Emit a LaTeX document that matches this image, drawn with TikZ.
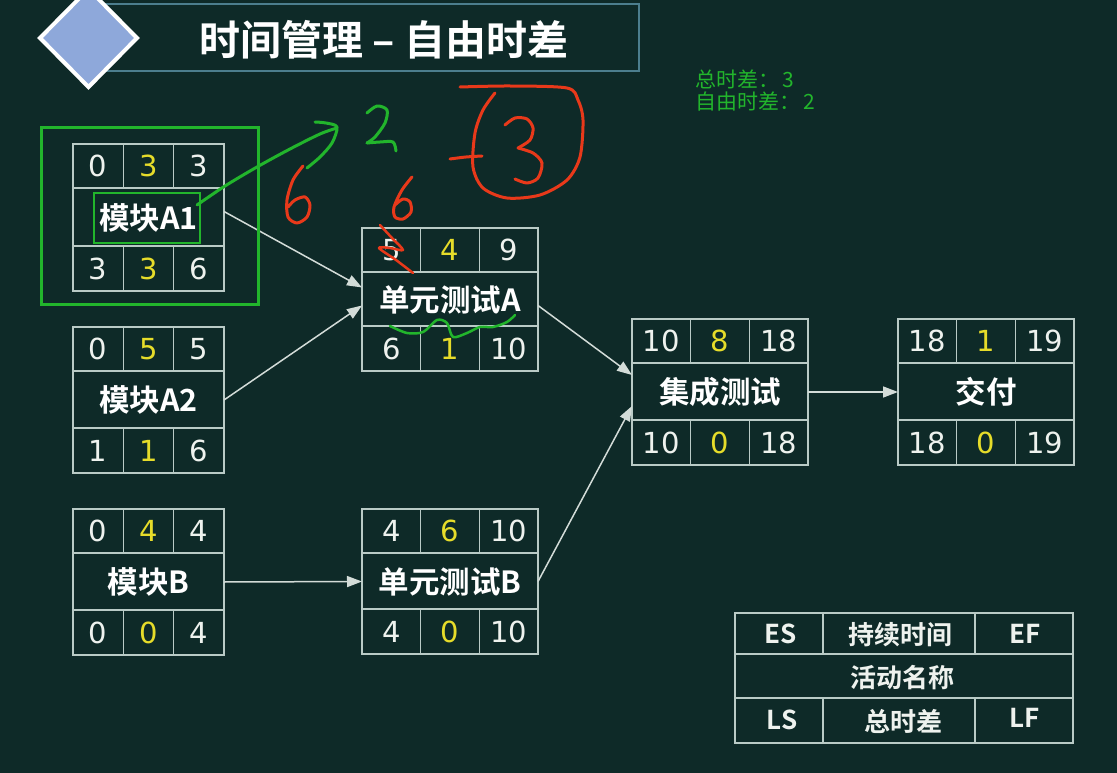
\documentclass[tikz,border=0pt]{standalone}
\usepackage{fontspec}
\setmainfont{DejaVu Sans}
\newfontfamily\cjk{Noto Sans CJK SC}[BoldFont={Noto Sans CJK SC Bold}]
\usetikzlibrary{arrows.meta,calc}
\definecolor{bg}{HTML}{0E2A28}
\definecolor{gridc}{HTML}{B9CBC6}
\definecolor{numy}{HTML}{E6DC2A}
\definecolor{numw}{HTML}{EEF2EE}
\definecolor{annred}{HTML}{E8391A}
\definecolor{anngreen}{HTML}{22B52C}
\definecolor{ttlborder}{HTML}{4C7E8E}
\definecolor{diafill}{HTML}{8EA8DA}
\definecolor{conncol}{HTML}{D3DCD8}
\tikzset{
  actframe/.style={draw=gridc, line width=1.5pt, inner sep=0pt, outer sep=0pt},
  gridline/.style={draw=gridc, line width=1.5pt},
  num/.style={text=numw, font=\fontsize{29}{30}\selectfont, inner sep=0pt},
  dur/.style={text=numy, font=\fontsize{29}{30}\selectfont, inner sep=0pt},
  lbl/.style={text=white, font=\cjk\bfseries\fontsize{30.5}{32}\selectfont, inner sep=0pt},
  conn/.style={draw=conncol, line width=1.5pt, -{Triangle[length=15pt,width=11pt]}},
  legtxt/.style={text=numw, font=\cjk\bfseries\fontsize{26}{28}\selectfont, inner sep=0pt},
  greentxt/.style={text=anngreen, font=\cjk\fontsize{21}{23}\selectfont, inner sep=0pt, anchor=west},
  redpen/.style={draw=annred, line width=3pt, line cap=round, line join=round},
  greenpen/.style={draw=anngreen, line width=3pt, line cap=round, line join=round},
}
% name, left x, top y, width, height, label
\newcommand\actbox[6]{%
  \node[actframe, minimum width=#4pt, minimum height=#5pt, anchor=north west] (#1) at (#2,#3) {};
  \draw[gridline] ([yshift=-44pt]#1.north west) -- ([yshift=-44pt]#1.north east);
  \draw[gridline] ([yshift=45pt]#1.south west) -- ([yshift=45pt]#1.south east);
  \draw[gridline] ($(#1.north west)!1/3!(#1.north east)$) -- ++(0,44);
  \draw[gridline] ($(#1.north west)!2/3!(#1.north east)$) -- ++(0,44);
  \draw[gridline] ($(#1.south west)!1/3!(#1.south east)$) -- ++(0,-45);
  \draw[gridline] ($(#1.south west)!2/3!(#1.south east)$) -- ++(0,-45);
  \node[lbl] (#1-l) at (#1.center) {#6};
}
% name, ES, D, EF, LS, TF, LF
\newcommand\actnums[7]{%
  \node[num] (#1-es) at ($(#1.north west)!1/6!(#1.north east)+(0,22)$) {#2};
  \node[dur] (#1-d)  at ($(#1.north west)!3/6!(#1.north east)+(0,22)$) {#3};
  \node[num] (#1-ef) at ($(#1.north west)!5/6!(#1.north east)+(0,22)$) {#4};
  \node[num] (#1-ls) at ($(#1.south west)!1/6!(#1.south east)+(0,-22.5)$) {#5};
  \node[dur] (#1-tf) at ($(#1.south west)!3/6!(#1.south east)+(0,-22.5)$) {#6};
  \node[num] (#1-lf) at ($(#1.south west)!5/6!(#1.south east)+(0,-22.5)$) {#7};
}
\begin{document}
\begin{tikzpicture}[x=1pt,y=-1pt]
\fill[bg] (0,0) rectangle (1117,773);
\useasboundingbox (0,0) rectangle (1117,773);

% title
\node[draw=ttlborder, line width=2pt, fill=bg, minimum width=538pt, minimum height=67pt, anchor=north west, inner sep=0pt] (ttlbox) at (100,3) {};
\draw[draw=white, line width=4pt, fill=diafill, line join=miter] (88.5,-11) -- (137,38) -- (88.5,87) -- (40,38) -- cycle;
\node[text=white, font=\cjk\bfseries\fontsize{41}{44}\selectfont, inner sep=0pt] (ttl) at (384,40) {时间管理 – 自由时差};

% green notes
\node[greentxt] (gt1) at (695,79) {总时差：\,3};
\node[greentxt] (gt2) at (695,102) {自由时差：\,2};

% activities
\actbox{a1}{73}{144}{151}{147}{模块A1}
\actnums{a1}{0}{3}{3}{3}{3}{6}
\actbox{a2}{73}{327}{151}{146}{模块A2}
\actnums{a2}{0}{5}{5}{1}{1}{6}
\actbox{b}{73}{509}{151}{146}{模块B}
\actnums{b}{0}{4}{4}{0}{0}{4}
\actbox{uta}{362}{228}{176}{143}{单元测试A}
\actnums{uta}{5}{4}{9}{6}{1}{10}
\actbox{utb}{362}{509}{176}{145}{单元测试B}
\actnums{utb}{4}{6}{10}{4}{0}{10}
\actbox{it}{632}{319}{176}{146}{集成测试}
\actnums{it}{10}{8}{18}{10}{0}{18}
\actbox{jf}{898}{319}{176}{146}{交付}
\actnums{jf}{18}{1}{19}{18}{0}{19}

% connectors
\draw[conn] ([yshift=6pt]a1.east) -- ([yshift=12pt]uta.west);
\draw[conn] (a2.east) -- ([yshift=-6pt]uta.west);
\draw[conn] (b.east) -- (utb.west);
\draw[conn] ([yshift=-6pt]uta.east) -- ([yshift=17pt]it.west);
\draw[conn] (utb.east) -- ([yshift=-14pt]it.west);
\draw[conn] (it.east) -- (jf.west);

% legend
\node[actframe, minimum width=338pt, minimum height=130pt, anchor=north west] (lg) at (735,613) {};
\draw[gridline] (735,654) -- (1073,654);
\draw[gridline] (735,698) -- (1073,698);
\draw[gridline] (823,613) -- (823,654);
\draw[gridline] (975,613) -- (975,654);
\draw[gridline] (823,698) -- (823,743);
\draw[gridline] (975,698) -- (975,743);
\node[legtxt] (lg-es) at (781,634) {ES};
\node[legtxt] (lg-d) at (900,635) {持续时间};
\node[legtxt] (lg-ef) at (1025,634) {EF};
\node[legtxt] (lg-n) at (902,678) {活动名称};
\node[legtxt] (lg-ls) at (782,720) {LS};
\node[legtxt] (lg-tf) at (903,721) {总时差};
\node[legtxt] (lg-lf) at (1025,718) {LF};

% hand annotations: green
\draw[anngreen, line width=3pt] (41,128) rectangle (258,304);
\draw[anngreen, line width=2.5pt] (94,193) rectangle (200,243);
\draw[greenpen] plot[smooth] coordinates {(197,205) (225,186) (257,167) (290,149) (320,134) (337,128)};
\draw[greenpen] plot[smooth] coordinates {(315,122) (326,123) (337,127) (332,143) (320,157) (307,168)};
\draw[greenpen] plot[smooth] coordinates {(367,113) (377,106) (387,110) (385,123) (375,137) (367,143)};
\draw[greenpen] plot[smooth] coordinates {(367,143) (380,142) (393,142) (396,151)};
\draw[greenpen, line width=2.5pt] plot[smooth] coordinates {(390,326) (407,333) (423,332) (437,320) (447,323) (453,337) (467,333) (480,327) (493,327) (507,322) (515,315)};

% hand annotations: red
\draw[redpen] plot[smooth] coordinates {(303,166) (293,180) (287,200) (288,217) (297,223) (307,217) (310,205) (305,197) (295,200) (288,207)};
\draw[redpen] plot[smooth] coordinates {(412,177) (402,190) (394,207) (395,217) (403,219) (411,212) (410,202) (403,199) (395,205)};
\draw[redpen, line width=2.5pt] plot[smooth] coordinates {(380,225) (392,238) (403,250) (390,248) (379,248) (396,260) (413,273)};
\draw[redpen] plot[smooth] coordinates {(460,87) (510,86) (567,88) (578,100) (583,120) (580,157) (567,180) (540,195) (507,198) (483,188) (473,167) (475,133) (483,110) (495,93)};
\draw[redpen] plot[smooth] coordinates {(450,159) (466,157) (482,156)};
\draw[redpen] plot[smooth] coordinates {(505,125) (515,118) (527,119) (533,128) (530,140) (518,148)};
\draw[redpen] plot[smooth] coordinates {(518,148) (533,153) (542,163) (538,178) (527,183) (515,179)};
\end{tikzpicture}
\end{document}
